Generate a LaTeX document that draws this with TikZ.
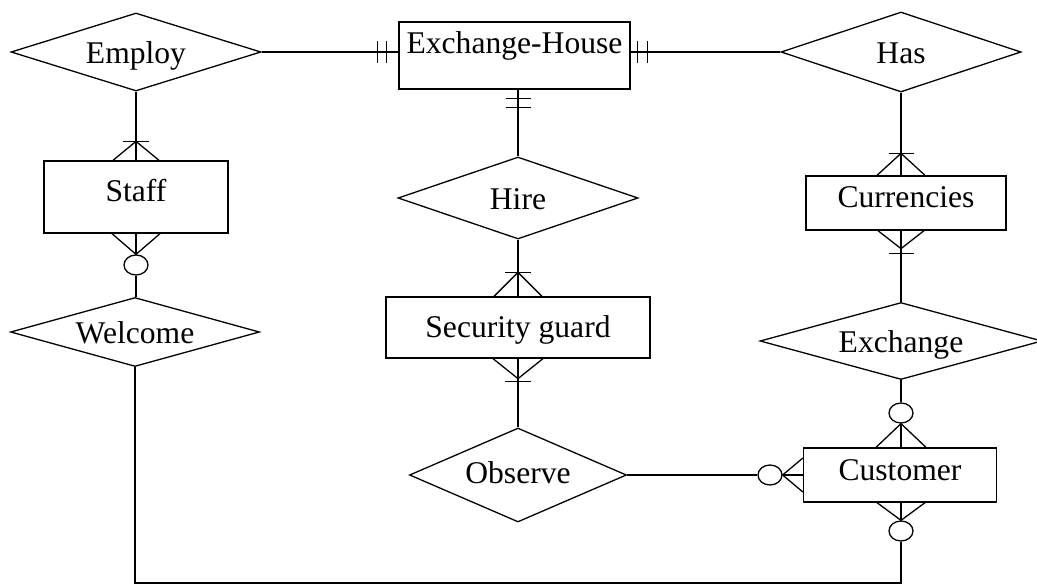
\documentclass[tikz,border=0pt]{standalone}
\usepackage{fontspec}
\setmainfont{Liberation Serif}
\usetikzlibrary{shapes.geometric,calc}
\begin{document}
\begin{tikzpicture}[x=1pt,y=-1pt,line width=1.3pt,
  every node/.style={font=\fontsize{31.6}{36}\selectfont},
  ent/.style={draw,rectangle,inner sep=0pt,text height=22pt},
  rel/.style={draw,diamond,inner sep=0pt,text height=22pt,text depth=0pt},
  circ/.style={draw,ellipse,inner sep=0pt,minimum width=24pt,minimum height=20pt}]
\useasboundingbox (0,0) rectangle (1037,584);
% left column
\node[rel,minimum width=250pt,minimum height=78pt,shape aspect=3.2] (employ) at (136,52) {Employ};
\node[ent,minimum width=184pt,minimum height=72pt,text depth=14pt] (staff) at (136,197) {Staff};
\node[circ] (c1) at (136,265) {};
\node[rel,minimum width=249pt,minimum height=69pt,shape aspect=3.6] (welcome) at (135,332) {Welcome};
% middle column
\node[ent,minimum width=231pt,minimum height=67pt,text depth=26pt] (exh) at (514.5,55.5) {Exchange-House};
\node[rel,minimum width=240pt,minimum height=82pt,shape aspect=2.9] (hire) at (518,198) {Hire};
\node[ent,minimum width=264pt,minimum height=61pt,text depth=2pt] (sg) at (518,327.5) {Security guard};
\node[rel,minimum width=217pt,minimum height=94pt,shape aspect=2.3,text depth=6pt] (observe) at (518,475) {Observe};
% right column
\node[rel,minimum width=240pt,minimum height=80pt,shape aspect=3] (has) at (901,52) {Has};
\node[ent,minimum width=200pt,minimum height=54pt,text depth=14pt] (cur) at (906,203) {Currencies};
\node[rel,minimum width=282pt,minimum height=77pt,shape aspect=3.66] (exch) at (901,341) {Exchange};
\node[circ] (c2) at (901,413) {};
\node[ent,minimum width=193pt,minimum height=54pt,text depth=12pt] (cust) at (900,475) {Customer};
\node[circ] (c3) at (770,475) {};
\node[circ] (c4) at (901,531) {};
% Employ -- Staff
\draw (employ.south) -- (employ.south |- staff.north);
\coordinate (sn) at (employ.south |- staff.north);
\draw ($(sn)+(-13,-19)$) -- ++(26,0);
\draw ($(sn)+(-23,0)$) -- ($(sn)+(0,-19)$) -- ($(sn)+(23,0)$);
% Staff -- Welcome
\coordinate (ss) at (c1.north |- staff.south);
\draw (ss) -- (c1.north);
\draw ($(ss)+(-24,0)$) -- (c1.north) -- ($(ss)+(24,0)$);
\draw (c1.south) -- (c1.south |- welcome.north);
% Employ -- Exchange-House
\coordinate (ew) at (employ.east -| exh.west);
\draw (employ.east) -- (ew);
\draw ($(ew)+(-21,-11)$) -- ++(0,22);
\draw ($(ew)+(-12,-11)$) -- ++(0,22);
% Exchange-House -- Has
\coordinate (ee) at (has.west -| exh.east);
\draw (ee) -- (has.west);
\draw ($(ee)+(7,-11)$) -- ++(0,22);
\draw ($(ee)+(17,-11)$) -- ++(0,22);
% Exchange-House -- Hire
\coordinate (es) at (hire.north |- exh.south);
\draw (es) -- (hire.north);
\draw ($(es)+(-12.5,9)$) -- ++(25,0);
\draw ($(es)+(-12.5,18)$) -- ++(25,0);
% Hire -- Security guard
\coordinate (gn) at (hire.south |- sg.north);
\draw (hire.south) -- (gn);
\draw ($(gn)+(-13,-24)$) -- ++(26,0);
\draw ($(gn)+(-24,0)$) -- ($(gn)+(0,-24)$) -- ($(gn)+(24,0)$);
% Security guard -- Observe
\coordinate (gs) at (observe.north |- sg.south);
\draw (gs) -- (observe.north);
\draw ($(gs)+(-25,0)$) -- ($(gs)+(0,20)$) -- ($(gs)+(25,0)$);
\draw ($(gs)+(-13,23)$) -- ++(26,0);
% Observe -- Customer
\draw (observe.east) -- (c3.west);
\coordinate (cw) at (c3.east -| cust.west);
\draw (c3.east) -- (cw);
\draw ($(cw)+(0,-17)$) -- (c3.east) -- ($(cw)+(0,17)$);
% Has -- Currencies
\coordinate (cn) at (has.south |- cur.north);
\draw (has.south) -- (cn);
\draw ($(cn)+(-12.5,-22)$) -- ++(25,0);
\draw ($(cn)+(-24,0)$) -- ($(cn)+(0,-22)$) -- ($(cn)+(24,0)$);
% Currencies -- Exchange
\coordinate (cs) at (exch.north |- cur.south);
\draw (cs) -- (exch.north);
\draw ($(cs)+(-23,0)$) -- ($(cs)+(0,18)$) -- ($(cs)+(23,0)$);
\draw ($(cs)+(-12.5,23)$) -- ++(25,0);
% Exchange -- Customer
\draw (exch.south) -- (c2.north);
\coordinate (ct) at (c2.south |- cust.north);
\draw (c2.south) -- (ct);
\draw ($(ct)+(-25,0)$) -- (c2.south) -- ($(ct)+(25,0)$);
% Customer -- Welcome
\coordinate (cb) at (c4.north |- cust.south);
\draw (cb) -- (c4.north);
\draw ($(cb)+(-24,0)$) -- (c4.north) -- ($(cb)+(24,0)$);
\coordinate (bot) at (0,583);
\draw (welcome.south) -- (welcome.south |- bot) -| (c4.south);
\end{tikzpicture}
\end{document}
